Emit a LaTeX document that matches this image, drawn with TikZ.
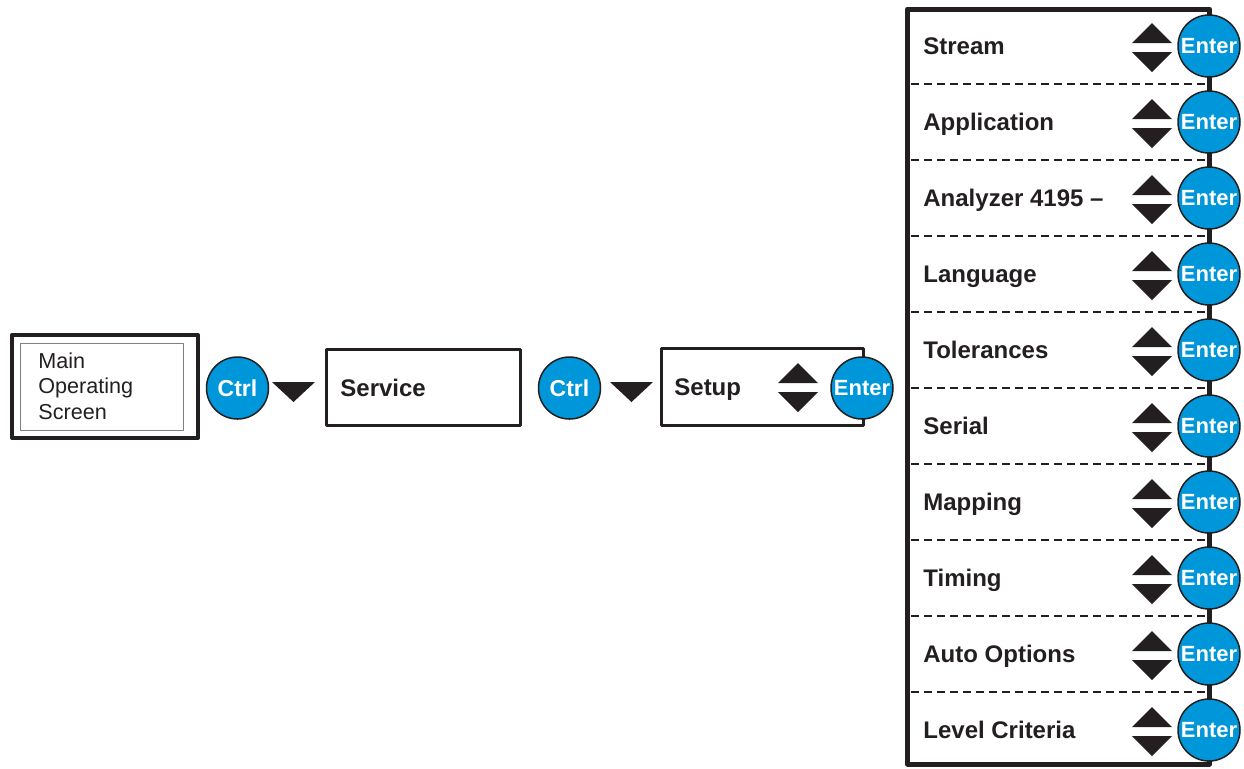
\documentclass[tikz,border=0pt]{standalone}
\usepackage{fontspec}
\setmainfont{Liberation Sans}
\usetikzlibrary{positioning}
\definecolor{keyblue}{RGB}{0,150,218}
\definecolor{ink}{RGB}{35,31,32}
\tikzset{
  key/.style={circle, draw=ink, line width=0.75pt, fill=keyblue, text=white,
    inner sep=0pt, minimum size=31pt, font=\bfseries\fontsize{11}{12}\selectfont},
  ctrlkey/.style={key, font=\bfseries\fontsize{11.5}{12}\selectfont},
  lbl/.style={anchor=base west, inner sep=0pt, text=ink, font=\bfseries\fontsize{12}{14}\selectfont},
  updown/.pic={
    \fill[ink] (-20,-4.5) -- (20,-4.5) -- (0,-24.5) -- cycle;
    \fill[ink] (-20,4.5) -- (20,4.5) -- (0,24.5) -- cycle;},
  downkey/.pic={\fill[ink] (-21.5,-10) -- (21.5,-10) -- (0,10) -- cycle;}
}
\begin{document}
\begin{tikzpicture}[x=0.5pt, y=-0.5pt, line join=round]
  \def\ytop{46} \def\rowh{76} % rows of the menu
  \useasboundingbox (0,0) rectangle (1244,768);
  % main screen
  \draw[ink, line width=2pt] (12,335) rectangle (198,438);
  \draw[gray, line width=0.5pt] (20,343) rectangle (183,430);
  \node[anchor=west, align=left, inner sep=0pt, text=ink,
    font=\fontsize{10.8}{12.75}\selectfont] (mainscr) at (38,386) {Main\\Operating\\Screen};
  \node[ctrlkey] (ctrlA) at (237.5,388) {Ctrl};
  \pic at (293.5,392) {downkey};
  % service
  \draw[ink, line width=1.5pt] (326.5,349.5) rectangle (520.5,425.5);
  \node[lbl] (service) at (340,396.5) {Service};
  \node[ctrlkey] (ctrlB) at (569.5,388) {Ctrl};
  \pic at (631.5,392) {downkey};
  % setup
  \draw[ink, line width=1.5pt] (661.5,348.5) rectangle (863.5,425.5);
  \node[lbl] (setup) at (674,395.5) {Setup};
  \pic at (798,387.5) {updown};
  \node[key] (entsetup) at (862,388) {Enter};
  % menu
  \draw[ink, line width=2.5pt] (907.5,9) rectangle (1209.5,764);
  \foreach \i in {0,...,8}{
    \pgfmathsetmacro\yd{\ytop+\rowh*\i+38}
    \draw[ink, line width=0.75pt, dash pattern=on 4pt off 2.5pt] (911,\yd) -- (1206,\yd);
  }
  \foreach \lab [count=\i from 0] in {Stream, Application, Analyzer 4195 --, Language,
      Tolerances, Serial, Mapping, Timing, Auto Options, Level Criteria}{
    \pgfmathsetmacro\y{\ytop+\rowh*\i}
    \node[lbl] (row\i) at (923,\y+8.6) {\lab};
    \pic at (1152,\y+1.5) {updown};
    \node[key] (ent\i) at (1209,\y) {Enter};
  }
\end{tikzpicture}
\end{document}
